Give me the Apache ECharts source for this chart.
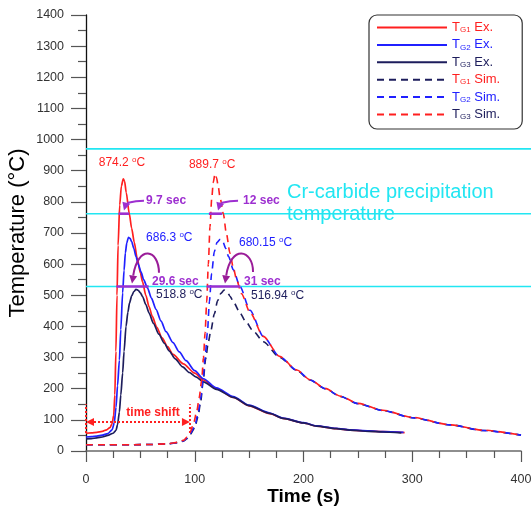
<!DOCTYPE html>
<html>
<head>
<meta charset="utf-8">
<script src="https://cdn.jsdelivr.net/npm/echarts@6/dist/echarts.min.js"></script>
<style>
  html, body { margin: 0; padding: 0; background: #fff; }
  #chart { width: 531px; height: 511px; }
</style>
</head>
<body>
<div id="chart"></div>
<script>
// Temperature histories at three gauge points (TG1-TG3): measured vs simulated.
// Each list holds [time (s), temperature (°C)] pairs.
const tg1Ex = [[0,57],[5,58],[10,60],[15,63],[19,68],[22,75],[24,88],[25.5,115],[26.5,180],[27.5,320],[28.5,500],[29.5,660],[31,790],[32.5,850],[34.3,874.2],[35.5,866],[37,830],[39.8,762],[42,715],[44.4,670],[47,620],[50,572],[52,543],[55,500],[58,463],[61,432],[65,398],[70,363],[75,335],[80,310],[89.5,280],[100,250],[108,228],[120,200],[135.5,172],[150,145],[169,120],[181,105],[200,90],[212,80],[230,72],[243,67],[260,64],[273,62],[293,59]];
const tg2Ex = [[0,45],[5,46],[10,48],[15,51],[20,56],[24,68],[26,90],[27.6,140],[29,210],[30.7,292],[32,390],[33.7,508],[35,580],[36.2,636],[37.5,668],[39,686.3],[40.5,683],[42,672],[44,650],[46,624],[48,600],[50.6,575],[53,550],[56.7,522],[60,492],[64.4,455],[69,417],[73.6,383],[80,348],[85.8,318],[92,290],[100,258],[108,232],[120,203],[135.5,175],[150,147],[169,122],[181,106],[200,91],[212,81],[230,73],[243,68],[260,65],[273,62],[292,60]];
const tg3Ex = [[0,39],[5,40],[10,42],[15,45],[20,50],[25,57],[27.6,66],[29,85],[30.7,125],[32,180],[33.7,251],[35,320],[36.8,400],[38.5,445],[40,475],[42,498],[44,512],[46,518.8],[48,516],[50,508],[52,496],[55,470],[58,443],[62,410],[67,375],[72,346],[76.6,321],[82,296],[88.9,270],[95,252],[101,238],[108,222],[120,198],[135.5,172],[150,146],[169,121],[181,105],[200,90],[212,80],[230,72],[243,67],[260,63],[273,61],[290,58]];
const tg1Sim = [[0,20],[20,20],[40,20],[60,21],[75,23],[85,28],[90,35],[93,45],[96,62],[99,90],[102,130],[104,170],[106.4,228],[108,300],[109.5,380],[111,480],[112.5,600],[114,720],[115.6,810],[117,862],[118.6,889.7],[120,878],[121.5,852],[123.2,815],[126.3,762],[129,700],[132.4,635],[135.5,588],[138.5,550],[143,505],[150.8,445],[163,368],[178,304],[194,260],[206,229],[220,201],[234,176],[250,153],[273,131],[300,108],[335,84],[365,67],[400,51]];
const tg2Sim = [[0,20],[20,20],[40,20],[60,21],[75,23],[85,27],[90,33],[93,42],[96,57],[100,80],[103,120],[105.5,170],[107.6,228],[109.5,300],[111.6,379],[113.5,480],[115.5,570],[118,640],[120.5,670],[123.5,680.15],[126,671],[128.5,650],[131,625],[135.5,582],[141.6,528],[150.8,452],[163,368],[178,303],[194,259],[206,228],[220,200],[234,175],[250,152],[273,130],[300,107],[335,84],[365,66],[400,51]];
const tg3Sim = [[0,20],[20,20],[40,20],[60,21],[75,23],[85,27],[90,32],[93,40],[96,54],[100,75],[103,110],[105.5,160],[107.6,220],[110,295],[112.5,350],[114.7,385],[118,440],[121,482],[124,506],[127,516.94],[130,510],[132.4,497],[136,476],[141.6,443],[147,415],[154,384],[163,351],[178,301],[194,258],[206,228],[220,200],[234,175],[250,152],[273,130],[300,107],[335,84],[365,66],[400,51]];

// Cr-carbide precipitation band limits and reference level (°C)
const thresholdTemps = [970, 762, 528];
// Residence intervals: [start time (s), duration (s), temperature level (°C)]
const holdIntervals = [[30, 9.7, 762], [113, 12, 762], [28, 29.6, 528], [111, 31, 528]];
// Time offset between measured and simulated histories (s)
const timeShift = 95.6;

const RED = '#ff1f1f', BLUE = '#2020ff', NAVY = '#1d1d5c';
const CYAN = '#22e6f2', PURPLE = '#9d2fd0', MAGENTA = '#9a1c98';
const FONT = '"Liberation Sans", Arial, sans-serif';

const peakOf = arr => Math.max(...arr.map(p => p[1]));
const degRich = { o: { fontSize: 8, verticalAlign: 'top', lineHeight: 14 } };

// Curved arrows in data space: [t0, v0, c1t, c1v, c2t, c2v, t1, v1, color]
const curvedArrows = [
  [53.3, 803.6, 42.3, 803.6, 36.8, 794, 34.9, 772, PURPLE],
  [139.8, 803.6, 128.7, 803.6, 123.2, 794, 121.4, 772, PURPLE],
  [67.1, 572, 67.1, 648, 47.8, 664, 42.3, 538, MAGENTA],
  [153.6, 575, 153.6, 648, 133.3, 664, 127.8, 538, MAGENTA]
];

// Text annotations anchored in data space
const notes = [
  { text: peakOf(tg1Ex) + ' {o|o}C', t: 33.1, v: 925, color: RED, align: 'center' },
  { text: peakOf(tg1Sim) + ' {o|o}C', t: 116, v: 919, color: RED, align: 'center' },
  { text: peakOf(tg2Ex) + ' {o|o}C', t: 55.2, v: 685, color: BLUE, align: 'left' },
  { text: peakOf(tg2Sim) + ' {o|o}C', t: 140.7, v: 669, color: BLUE, align: 'left' },
  { text: peakOf(tg3Ex) + ' {o|o}C', t: 64.4, v: 501, color: NAVY, align: 'left' },
  { text: peakOf(tg3Sim) + ' {o|o}C', t: 151.7, v: 498, color: NAVY, align: 'left' },
  { text: holdIntervals[0][1] + ' sec', t: 55.2, v: 804, color: PURPLE, align: 'left', bold: true },
  { text: holdIntervals[1][1] + ' sec', t: 144.4, v: 804, color: PURPLE, align: 'left', bold: true },
  { text: holdIntervals[2][1] + ' sec', t: 60.7, v: 543, color: PURPLE, align: 'left', bold: true },
  { text: holdIntervals[3][1] + ' sec', t: 145.3, v: 543, color: PURPLE, align: 'left', bold: true },
  { text: 'time shift', t: 61.6, v: 122, color: RED, align: 'center', bold: true },
  { text: 'Cr-carbide precipitation', t: 184.8, v: 829, color: CYAN, align: 'left', size: 20 },
  { text: 'temperature', t: 184.8, v: 758, color: CYAN, align: 'left', size: 20 }
];

const chart = echarts.init(document.getElementById('chart'), null, { renderer: 'canvas' });

function lineSeries(name, data, color, dashed) {
  return {
    name, type: 'line', data, symbol: 'none', smooth: 0.25, smoothMonotone: 'x',
    lineStyle: { color, width: dashed ? 1.6 : 1.7, type: dashed ? [7, 5] : 'solid' },
    itemStyle: { color }, z: dashed ? 4 : 3, silent: true
  };
}

function arrowHead(p1, from, color) {
  const dx = p1[0] - from[0], dy = p1[1] - from[1];
  const len = Math.hypot(dx, dy) || 1;
  const ux = dx / len, uy = dy / len, L = 8, W = 4;
  const base = [p1[0] - ux * L, p1[1] - uy * L];
  return {
    base,
    el: { type: 'polygon', shape: { points: [p1, [base[0] - uy * W, base[1] + ux * W], [base[0] + uy * W, base[1] - ux * W]] }, style: { fill: color } }
  };
}

const option = {
  animation: false,
  backgroundColor: '#fff',
  textStyle: { fontFamily: FONT },
  grid: { left: 86, right: 10, top: 15, bottom: 60, containLabel: false, outerBoundsMode: 'none' },
  xAxis: {
    type: 'value', min: 0, max: 400, interval: 100,
    name: 'Time (s)', nameLocation: 'middle', nameGap: 36, nameMoveOverlap: false,
    nameTextStyle: { fontSize: 19, fontWeight: 'bold', color: '#000', fontFamily: FONT },
    axisLine: { show: true, onZero: false, lineStyle: { color: '#6a6a6a', width: 1.5 } },
    axisTick: { show: true, length: 11, lineStyle: { color: '#555', width: 1.2 } },
    minorTick: { show: true, splitNumber: 4, length: 7, lineStyle: { color: '#555', width: 1.2 } },
    axisLabel: { margin: 22, fontSize: 12.5, color: '#333', fontFamily: FONT, formatter: v => String(v) },
    splitLine: { show: false }
  },
  yAxis: {
    type: 'value', min: 0, max: 1400, interval: 100,
    name: 'Temperature (°C)', nameLocation: 'middle', nameGap: 57, nameRotate: 90, nameMoveOverlap: false,
    nameTextStyle: { fontSize: 22, color: '#000', fontFamily: FONT },
    axisLine: { show: true, lineStyle: { color: '#111', width: 1.3 } },
    axisTick: { show: true, length: 15, lineStyle: { color: '#555', width: 1.2 } },
    minorTick: { show: true, splitNumber: 2, length: 8, lineStyle: { color: '#555', width: 1.2 } },
    axisLabel: { margin: 22, fontSize: 12.5, color: '#333', fontFamily: FONT, formatter: v => String(v) },
    splitLine: { show: false }
  },
  legend: {
    orient: 'vertical', left: 369, top: 15,
    itemWidth: 70, itemHeight: 12, itemGap: 4.4,
    padding: [6, 22, 8, 7],
    borderColor: '#333', borderWidth: 1.2, borderRadius: 8,
    backgroundColor: '#fff', selectedMode: false,
    itemStyle: { opacity: 0 },
    formatter: name => {
      const parts = name.split(' ');
      return '{t|T}{s|' + parts[0].slice(1) + '}{n| ' + parts[1] + '}';
    },
    textStyle: {
      fontFamily: FONT, fontSize: 13,
      rich: {
        t: { fontSize: 13, fontFamily: FONT },
        s: { fontSize: 8, fontFamily: FONT, verticalAlign: 'bottom', lineHeight: 13 },
        n: { fontSize: 13, fontFamily: FONT }
      }
    },
    data: [
      { name: 'TG1 Ex.', textStyle: { color: RED } },
      { name: 'TG2 Ex.', textStyle: { color: BLUE } },
      { name: 'TG3 Ex.', textStyle: { color: NAVY } },
      { name: 'TG1 Sim.', textStyle: { color: RED }, lineStyle: { color: NAVY } },
      { name: 'TG2 Sim.', textStyle: { color: BLUE } },
      { name: 'TG3 Sim.', textStyle: { color: NAVY }, lineStyle: { color: RED } }
    ]
  },
  series: [
    // Precipitation temperature levels, run past the last tick to the canvas edge
    {
      type: 'custom', silent: true, clip: false, z: 1,
      data: thresholdTemps.map(v => [0, v]),
      renderItem: (params, api) => {
        const v = api.value(1);
        const a = api.coord([0, v]), b = api.coord([412, v]);
        return { type: 'line', shape: { x1: a[0], y1: a[1], x2: b[0], y2: b[1] }, style: { stroke: CYAN, lineWidth: 1.6 } };
      }
    },
    lineSeries('TG1 Ex.', tg1Ex, RED, false),
    lineSeries('TG2 Ex.', tg2Ex, BLUE, false),
    lineSeries('TG3 Ex.', tg3Ex, NAVY, false),
    lineSeries('TG3 Sim.', tg3Sim, NAVY, true),
    lineSeries('TG2 Sim.', tg2Sim, BLUE, true),
    lineSeries('TG1 Sim.', tg1Sim, RED, true),
    // Residence interval bars
    {
      type: 'custom', silent: true, clip: false, z: 6,
      data: holdIntervals.map(h => [h[0], h[2]]),
      renderItem: (params, api) => {
        const h = holdIntervals[params.dataIndex];
        const a = api.coord([h[0], h[2]]), b = api.coord([h[0] + h[1], h[2]]);
        return { type: 'line', shape: { x1: a[0], y1: a[1], x2: b[0], y2: b[1] }, style: { stroke: PURPLE, lineWidth: 2.6 } };
      }
    },
    // Curved pointer arrows
    {
      type: 'custom', silent: true, clip: false, z: 7,
      data: curvedArrows.map(a => [a[0], a[1]]),
      renderItem: (params, api) => {
        const d = curvedArrows[params.dataIndex];
        const p0 = api.coord([d[0], d[1]]), c1 = api.coord([d[2], d[3]]);
        const c2 = api.coord([d[4], d[5]]), p1 = api.coord([d[6], d[7]]);
        const head = arrowHead(p1, c2, d[8]);
        return {
          type: 'group', children: [
            { type: 'bezierCurve', shape: { x1: p0[0], y1: p0[1], cpx1: c1[0], cpy1: c1[1], cpx2: c2[0], cpy2: c2[1], x2: head.base[0], y2: head.base[1] }, style: { stroke: d[8], lineWidth: 2, fill: null } },
            head.el
          ]
        };
      }
    },
    // Time shift marker: two dotted uprights and a double-headed dotted arrow
    {
      type: 'custom', silent: true, clip: false, z: 7,
      data: [[0, 93]],
      renderItem: (params, api) => {
        const a = api.coord([0, 93]), b = api.coord([timeShift, 93]);
        const l0 = api.coord([0, 58]), l1 = api.coord([0, 150]);
        const r0 = api.coord([timeShift, 58]), r1 = api.coord([timeShift, 150]);
        const dot = { stroke: RED, lineWidth: 2, lineDash: [2, 2] };
        const hr = arrowHead(b, a, RED), hl = arrowHead(a, b, RED);
        return {
          type: 'group', children: [
            { type: 'line', shape: { x1: l0[0], y1: l0[1], x2: l1[0], y2: l1[1] }, style: dot },
            { type: 'line', shape: { x1: r0[0], y1: r0[1], x2: r1[0], y2: r1[1] }, style: dot },
            { type: 'line', shape: { x1: hl.base[0], y1: a[1], x2: hr.base[0], y2: b[1] }, style: dot },
            hr.el, hl.el
          ]
        };
      }
    },
    // Annotation texts
    {
      type: 'custom', silent: true, clip: false, z: 8,
      data: notes.map(n => [n.t, n.v]),
      renderItem: (params, api) => {
        const n = notes[params.dataIndex];
        const p = api.coord([n.t, n.v]);
        return {
          type: 'text', x: p[0], y: p[1],
          style: {
            text: n.text, fill: n.color, align: n.align, verticalAlign: 'middle',
            fontFamily: FONT, fontSize: n.size || 12, fontWeight: n.bold ? 'bold' : 'normal',
            rich: degRich
          }
        };
      }
    }
  ]
};

chart.setOption(option);
</script>
</body>
</html>
